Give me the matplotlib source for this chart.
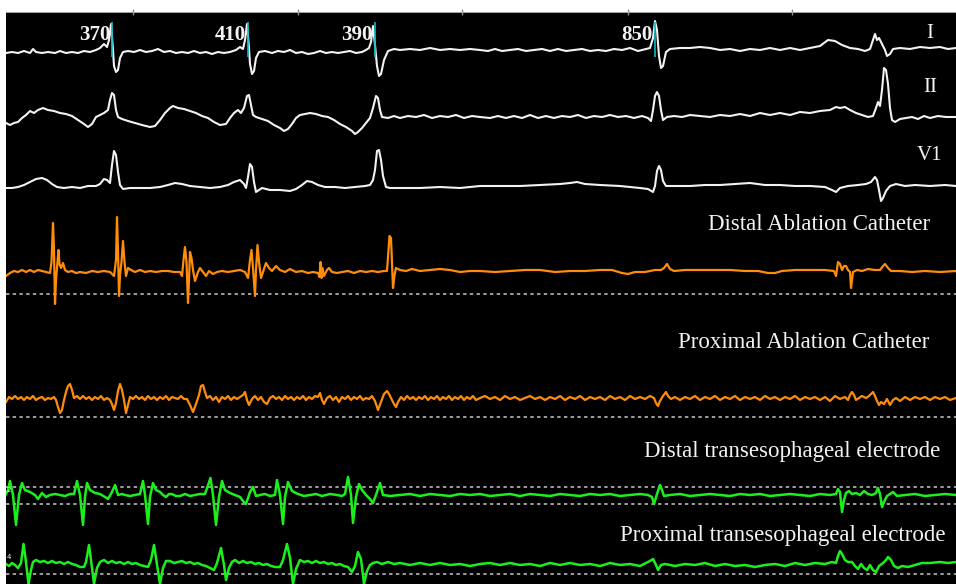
import matplotlib.pyplot as plt
import numpy as np

# time axis in screen samples (1 sample ~ 3 ms), amplitude in screen units (down = larger)
tick_t = [133, 298, 462, 628, 792]

# RR interval annotations (ms) at the marked beats of lead I
rr_t = [112, 248, 375, 655]
rr_ms = ["370", "410", "390", "850"]

lead_I = [(6,53),(12,52),(18,53),(24,51),(30,53),(33,49),(36,52),(42,53),(48,52),(55,53),(60,51),(66,53),(72,52),(78,53),(84,51),(90,52),(96,50),(100,48),(104,44),(107,47),(109,40),(111,24),(113,50),(114,66),(116,72),(118,70),(120,58),(123,52),(128,51),(134,52),(140,50),(146,52),(152,51),(158,49),(164,52),(170,51),(176,53),(182,52),(188,53),(194,51),(200,53),(206,52),(212,54),(218,52),(224,53),(230,52),(236,50),(240,47),(243,49),(245,40),(247,24),(249,48),(250,64),(252,74),(254,71),(256,58),(259,52),(265,51),(272,53),(278,51),(284,52),(290,50),(296,53),(302,52),(308,54),(314,53),(320,51),(326,53),(332,52),(338,53),(344,52),(350,51),(356,53),(362,52),(366,50),(369,48),(371,42),(373,26),(375,45),(377,66),(379,76),(381,74),(384,60),(388,51),(394,49),(400,50),(410,49),(420,50),(430,48),(440,50),(450,49),(460,50),(470,49),(480,50),(488,51),(495,49),(502,51),(510,50),(518,49),(526,51),(534,50),(542,49),(550,51),(558,49),(566,51),(574,50),(582,49),(590,51),(598,50),(606,51),(614,49),(622,50),(630,48),(638,51),(646,49),(650,48),(653,38),(655,21),(657,30),(659,56),(661,68),(663,66),(666,52),(670,49),(680,48),(690,48),(700,47),(710,48),(720,50),(730,49),(740,51),(750,49),(760,50),(770,48),(780,50),(790,48),(800,50),(810,48),(820,46),(828,40),(835,41),(842,45),(850,48),(858,49),(865,51),(870,49),(873,40),(875,34),(877,40),(879,38),(882,44),(885,50),(887,56),(890,54),(893,49),(900,48),(910,49),(920,47),(930,48),(940,47),(948,49),(956,48)]

lead_II = [(6,123),(10,125),(14,123),(18,122),(22,118),(26,115),(30,111),(34,113),(38,110),(43,108),(48,110),(54,111),(60,113),(66,114),(72,116),(78,120),(84,124),(88,127),(92,124),(96,117),(100,115),(104,113),(108,110),(110,100),(112,93),(114,95),(116,110),(118,117),(122,119),(128,121),(135,123),(142,125),(150,127),(155,126),(160,120),(165,113),(170,108),(173,106),(178,108),(184,109),(190,111),(196,113),(202,116),(208,118),(214,122),(220,125),(226,124),(230,118),(234,113),(238,110),(241,113),(244,108),(247,96),(249,95),(251,105),(253,115),(256,117),(262,119),(268,121),(274,125),(280,128),(284,131),(288,129),(292,124),(296,118),(300,115),(305,114),(310,113),(316,114),(322,116),(328,117),(334,120),(340,124),(346,127),(352,131),(355,134),(358,132),(362,128),(366,123),(370,118),(373,108),(376,96),(378,98),(380,110),(382,117),(388,118),(394,116),(400,118),(408,116),(416,117),(424,115),(432,118),(440,116),(448,117),(456,115),(464,118),(472,116),(480,117),(490,118),(498,116),(506,118),(514,116),(522,118),(530,115),(538,118),(546,116),(554,118),(562,116),(570,117),(578,115),(586,118),(594,116),(602,117),(610,115),(618,117),(626,116),(634,118),(642,116),(648,118),(651,121),(653,110),(655,96),(657,92),(659,96),(661,110),(663,120),(667,117),(674,116),(682,117),(690,115),(700,116),(710,117),(720,115),(730,116),(740,114),(750,116),(760,113),(770,115),(780,113),(790,115),(800,112),(810,113),(820,111),(830,110),(836,107),(840,108),(845,107),(850,110),(856,113),(862,115),(868,117),(873,116),(876,108),(878,102),(880,106),(882,90),(884,68),(886,70),(888,84),(890,108),(892,120),(895,122),(900,119),(906,118),(912,117),(918,119),(924,116),(930,118),(938,116),(946,117),(956,117)]

lead_V1 = [(6,188),(12,188),(18,187),(24,185),(30,182),(36,179),(42,178),(47,180),(52,184),(57,187),(64,188),(72,187),(80,188),(88,186),(96,186),(100,184),(104,179),(107,180),(110,183),(112,165),(114,151),(116,155),(118,172),(120,185),(123,189),(130,188),(140,188),(150,188),(160,187),(168,185),(175,183),(182,184),(190,186),(200,187),(210,188),(220,187),(228,185),(234,182),(240,180),(244,184),(246,188),(248,177),(250,164),(252,167),(254,182),(256,192),(259,190),(262,188),(266,189),(270,190),(280,190),(290,191),(296,189),(302,185),(307,181),(312,182),(318,185),(325,187),(335,187),(345,188),(355,187),(365,186),(370,185),(373,180),(375,170),(377,151),(379,150),(381,160),(383,176),(386,187),(390,188),(400,188),(420,188),(440,187),(460,188),(480,186),(500,186),(520,186),(540,185),(560,184),(570,183),(577,182),(585,184),(600,185),(620,186),(640,188),(648,189),(653,192),(655,186),(657,171),(659,166),(661,170),(663,181),(666,186),(675,186),(690,186),(705,185),(720,185),(735,184),(750,183),(765,185),(780,185),(795,186),(810,186),(825,187),(832,190),(836,192),(840,188),(848,186),(858,185),(866,184),(871,182),(875,177),(877,180),(879,190),(881,201),(883,198),(886,191),(890,186),(896,184),(905,186),(915,185),(930,186),(945,185),(956,186)]

abl_distal = [(6,276),(10,273),(14,271),(18,272),(22,270),(26,272),(30,270),(34,272),(38,270),(42,271),(46,272),(50,273),(51.5,262),(53,223),(54,250),(55,304),(56,280),(57.5,262),(58.5,250),(59.5,264),(61,268),(63,263),(65,270),(68,272),(72,271),(76,273),(80,272),(86,273),(92,271),(98,272),(104,271),(110,272),(114,276),(116,260),(117,217),(118,250),(119,296),(120,275),(121.5,262),(123,241),(124.5,262),(126,276),(128,268),(131,270),(135,272),(140,270),(145,272),(150,271),(156,272),(162,271),(168,271),(174,272),(180,272),(182,276),(183.5,260),(185,247),(186.5,262),(188,303),(189,280),(190,252),(191.5,258),(193,270),(195,281),(198,272),(200,268),(203,272),(206,276),(209,271),(213,274),(217,272),(222,271),(228,272),(234,271),(240,270),(245,272),(248,278),(250,260),(251.5,250),(253,268),(254,282),(255,296),(256,270),(257.5,245),(259,262),(261,278),(263,272),(266,263),(269,268),(272,271),(276,266),(280,270),(285,272),(290,269),(296,272),(302,271),(308,273),(313,272),(318,273),(319.5,277),(320.5,262),(321.5,278),(322.5,268),(324,276),(327,270),(329,268),(332,272),(337,273),(342,272),(348,271),(354,273),(360,271),(366,272),(372,271),(378,272),(384,271),(387,271),(388.5,250),(389.5,236),(391,238),(392,262),(393,288),(394.5,275),(396,268),(400,270),(406,271),(412,269),(420,271),(430,270),(440,269),(450,270),(460,272),(470,271),(480,271),(495,272),(510,271),(525,270),(540,270),(555,272),(570,271),(585,271),(600,270),(612,270),(622,273),(628,274),(635,272),(645,272),(655,270),(661,270),(664,268),(667,264),(670,269),(674,271),(685,270),(700,270),(715,270),(730,270),(745,271),(758,271),(768,273),(775,273),(782,271),(795,270),(810,270),(825,270),(834,271),(836,276),(838,262),(840,264),(842,270),(844,266),(846,266),(848,270),(850,272),(851,288),(852,280),(853,272),(857,270),(862,271),(868,269),(875,270),(880,270),(883,266),(885,264),(888,268),(891,271),(900,271),(912,272),(925,271),(940,272),(956,271)]

abl_proximal = [(6,402),(9,397),(12,399),(15,396),(18,399),(21,397),(24,400),(27,397),(30,399),(33,396),(36,400),(39,398),(42,397),(45,400),(48,398),(51,399),(54,397),(56,400),(58,407),(60,413),(62,410),(64,400),(66,392),(68,386),(70,384),(72,390),(74,398),(77,396),(80,399),(83,396),(86,399),(89,397),(92,400),(95,397),(98,399),(101,396),(104,400),(107,398),(110,400),(112,404),(114,410),(116,403),(118,391),(120,384),(122,390),(124,400),(126,413),(128,405),(130,397),(133,399),(136,396),(139,399),(142,397),(145,400),(148,396),(151,399),(154,397),(157,400),(160,397),(163,399),(166,396),(169,400),(172,397),(175,398),(178,399),(181,396),(184,399),(187,399),(190,405),(193,412),(196,404),(199,395),(201,386),(203,385),(205,392),(207,398),(210,396),(213,400),(216,397),(219,402),(222,397),(225,399),(228,396),(231,400),(234,397),(237,399),(240,397),(243,395),(245,392),(247,400),(249,405),(252,399),(255,396),(258,400),(261,397),(264,402),(267,404),(270,398),(273,396),(276,399),(279,397),(282,400),(285,396),(288,399),(291,397),(294,400),(297,397),(300,399),(303,396),(306,400),(309,397),(312,399),(315,396),(318,397),(320,393),(322,400),(324,404),(327,398),(330,396),(333,400),(336,397),(339,402),(342,397),(345,399),(348,396),(351,400),(354,397),(357,399),(360,396),(363,400),(366,398),(369,399),(372,396),(375,401),(378,410),(381,402),(384,394),(387,391),(389,394),(391,398),(394,404),(396,407),(398,402),(401,397),(404,400),(407,396),(410,399),(413,397),(416,400),(419,397),(422,399),(425,396),(428,400),(431,397),(434,399),(437,396),(440,400),(443,397),(446,399),(449,396),(452,400),(455,397),(458,399),(461,396),(464,400),(467,397),(470,399),(473,396),(476,400),(480,398),(485,396),(490,399),(495,397),(500,400),(505,396),(510,399),(515,397),(520,400),(525,398),(530,396),(535,399),(540,397),(545,400),(550,397),(555,399),(560,396),(565,400),(570,397),(575,399),(580,396),(585,400),(590,397),(595,399),(600,397),(605,400),(610,396),(615,399),(620,397),(625,400),(630,396),(635,399),(640,397),(645,399),(650,396),(654,398),(656,403),(658,406),(660,401),(663,396),(666,392),(668,396),(671,399),(675,397),(680,400),(685,397),(690,399),(695,396),(700,400),(705,397),(710,399),(715,396),(720,400),(725,397),(730,399),(735,396),(740,400),(745,397),(750,399),(755,397),(760,400),(765,396),(770,399),(775,397),(780,400),(785,397),(790,399),(795,396),(800,400),(805,397),(810,399),(815,397),(820,400),(825,397),(830,401),(835,396),(840,399),(845,397),(848,400),(850,395),(852,392),(854,395),(856,400),(859,398),(862,396),(866,398),(869,396),(871,394),(873,392),(875,396),(877,401),(879,405),(881,402),(884,404),(887,399),(890,405),(893,400),(896,398),(900,401),(905,397),(910,400),(915,397),(920,399),(925,397),(930,400),(935,397),(940,399),(945,397),(950,400),(956,398)]

te_distal = [(6,494),(8,490),(10,481),(13,495),(16,525),(19,495),(22,483),(25,490),(30,492),(35,495),(38,499),(42,493),(46,497),(50,495),(55,494),(60,495),(65,496),(70,494),(74,494),(77,481),(80,495),(83,525),(85,497),(87,483),(90,490),(95,493),(100,494),(105,497),(108,499),(112,492),(115,485),(118,495),(122,494),(125,495),(130,496),(135,495),(140,494),(143,481),(145,495),(148,524),(150,497),(153,483),(156,490),(160,492),(163,495),(166,497),(169,494),(172,494),(176,496),(180,496),(185,494),(190,496),(195,495),(200,494),(205,494),(210.5,478),(213,495),(216,525),(219,497),(222,481),(225,490),(230,493),(235,495),(240,497),(243,501),(246,504),(250,492),(253,487),(256,496),(260,495),(265,494),(270,496),(275,495),(277,480),(280,495),(283,524),(285,497),(288,482),(292,491),(298,494),(304,496),(310,495),(316,494),(322,496),(330,494),(337,495),(342,496),(345,494),(348,477),(351,495),(353,523),(356,497),(359,484),(362,490),(366,495),(370,499),(373,503),(377,492),(380,483),(383,495),(390,496),(400,495),(410,494),(420,496),(430,494),(440,495),(450,496),(460,494),(470,495),(480,494),(490,496),(500,495),(510,494),(520,496),(530,494),(540,495),(550,496),(560,494),(570,495),(580,496),(590,494),(600,495),(610,494),(620,496),(630,495),(640,494),(648,495),(652,497),(654,504),(657,494),(660,485),(662,490),(664,496),(670,495),(680,494),(690,496),(700,495),(710,494),(720,495),(730,496),(740,494),(750,495),(760,494),(770,496),(780,495),(790,494),(800,495),(810,496),(820,494),(830,495),(836,494),(838,489),(840,492),(842,512),(844,500),(846,493),(849,491),(852,494),(856,493),(860,495),(864,491),(868,494),(872,495),(876,493),(878,488),(880,494),(882,507),(884,502),(887,496),(890,494),(893,492),(897,496),(905,495),(915,494),(925,496),(935,495),(945,494),(956,495)]

te_proximal = [(6,564),(9,566),(12,563),(15,565),(18,568),(21,563),(23.5,544),(26,562),(28.5,584),(31,570),(33,562),(36,560),(40,562),(44,561),(48,563),(52,561),(56,563),(60,562),(64,564),(68,562),(72,564),(76,565),(80,567),(84,567),(86,562),(89,545),(91,560),(94,584),(97,568),(100,562),(104,560),(108,563),(112,561),(116,563),(120,562),(124,564),(128,562),(132,564),(136,563),(140,565),(144,566),(148,567),(151,560),(154,545),(156,558),(160,584),(163,568),(166,561),(170,561),(174,563),(178,562),(182,561),(186,563),(190,562),(194,564),(198,563),(202,565),(206,566),(210,568),(214,570),(217,563),(221,548),(224,565),(226,580),(229,568),(232,562),(235,560),(239,563),(243,561),(247,563),(251,562),(255,564),(259,563),(263,565),(267,564),(271,566),(275,567),(280,567),(283,560),(287,544),(290,558),(293,584),(296,569),(300,560),(304,562),(308,561),(312,563),(316,561),(320,563),(324,562),(328,564),(332,563),(336,565),(340,564),(344,566),(348,567),(352,572),(355,566),(358,552),(361,559),(364,584),(367,571),(370,565),(373,563),(377,562),(382,564),(388,562),(394,564),(400,563),(410,565),(420,563),(430,565),(440,563),(450,565),(460,564),(470,566),(480,564),(490,563),(500,565),(510,563),(520,565),(530,564),(540,566),(550,563),(560,565),(570,563),(580,565),(590,564),(600,566),(610,563),(620,565),(630,564),(640,566),(646,563),(650,561),(653,559),(656,565),(658,570),(661,565),(665,564),(675,566),(685,564),(695,565),(705,563),(715,566),(725,564),(735,566),(745,565),(755,567),(765,565),(775,564),(785,566),(795,563),(805,565),(815,563),(825,564),(832,562),(836,563),(838,556),(840,551),(842,554),(845,560),(848,562),(852,562),(855,566),(858,569),(861,564),(864,568),(867,570),(870,565),(873,570),(876,572),(879,566),(883,563),(886,560),(888,557),(891,560),(894,566),(898,568),(902,566),(908,567),(915,565),(922,563),(930,563),(940,562),(948,563),(956,562)]

# reference (zero) levels shown as dotted lines
ref_levels = [294, 417, 487, 504, 574]

WHITE = "#f2f2f2"
ORANGE = "#ff8c0a"
GREEN = "#1cf01c"
CYAN = "#10b8c0"

fig = plt.figure(figsize=(9.56, 5.84), dpi=100, facecolor="white")
ax = fig.add_axes([6 / 956, 0, 950 / 956, 572 / 584])
ax.set_facecolor("black")
ax.set_xlim(6, 956)
ax.set_ylim(584, 12)

for y in ref_levels:
    ax.axhline(y, color="#c8c8c8", lw=1.1, ls=(0, (2.2, 2.2)), zorder=1)

def trace(pts, color, lw):
    a = np.array(pts)
    ax.plot(a[:, 0], a[:, 1], color=color, lw=lw, solid_joinstyle="round", zorder=3)

trace(lead_I, WHITE, 1.5)
trace(lead_II, WHITE, 1.5)
trace(lead_V1, WHITE, 1.5)
trace(abl_distal, ORANGE, 1.6)
trace(abl_proximal, ORANGE, 1.6)
trace(te_distal, GREEN, 1.8)
trace(te_proximal, GREEN, 1.8)

ax.vlines(rr_t, 22, 57, color=CYAN, lw=1.2, zorder=4)

serif = "Liberation Serif"
for t, s in zip(rr_t, rr_ms):
    ax.text(t - 2, 35, s, color=WHITE, fontsize=15, fontweight="bold",
            family=serif, ha="right", va="center", zorder=5)

for s, y in [("I", 33), ("II", 88), ("V1", 155)]:
    ax.text(930, y, s, color=WHITE, fontsize=15, family=serif, ha="center", va="center")

for s, x, y in [("Distal Ablation Catheter", 930, 225),
                ("Proximal Ablation Catheter", 929, 342),
                ("Distal transesophageal electrode", 940, 451),
                ("Proximal transesophageal electrode", 945, 535)]:
    ax.text(x, y, s, color=WHITE, fontsize=16.5, family=serif, ha="right", va="center")

ax.text(7, 490, "2", color=WHITE, fontsize=5, ha="left", va="center")
ax.text(7, 557, "4", color=WHITE, fontsize=5, ha="left", va="center")

for side in ["left", "right", "bottom"]:
    ax.spines[side].set_visible(False)
ax.spines["top"].set_color("#a0a0a0")
ax.spines["top"].set_linewidth(0.8)
ax.set_xticks(tick_t)
ax.set_yticks([])
ax.tick_params(axis="x", top=True, bottom=False, labeltop=False, labelbottom=False,
               direction="inout", length=5, width=1, color="#909090")

fig.savefig("out.png", dpi=100, facecolor="white")
